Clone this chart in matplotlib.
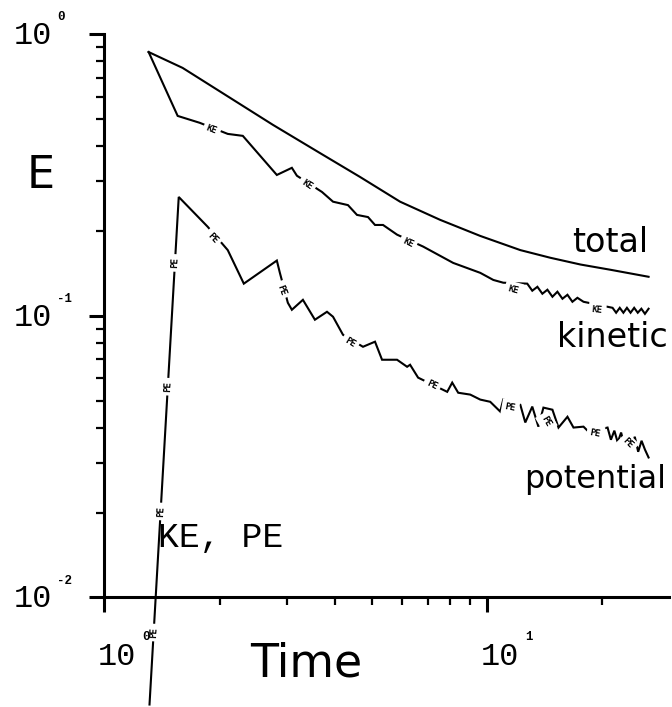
"""
Energy decay (total / kinetic / potential) on log-log axes, plotter style.
"""

import matplotlib
matplotlib.use("Agg")
import matplotlib.pyplot as plt
from matplotlib.ticker import LogLocator, NullFormatter

# ---- data -------------------------------------------------------------
time_total = [1.304, 1.600, 2.754, 3.655, 4.650, 5.919, 7.53, 9.587, 12.20, 14.62,
              17.52, 20.99, 26.39]
e_total = [0.863, 0.758, 0.476, 0.378, 0.311, 0.254, 0.219, 0.192, 0.171, 0.1606,
           0.152, 0.1456, 0.1375]

time_ke = [1.304, 1.553, 1.773, 2.099, 2.298, 2.820, 3.087, 3.182, 3.700, 3.954,
           4.326, 4.567, 4.880, 5.090, 5.342, 5.812, 6.799, 8.147, 9.587, 10.37,
           11.01, 12.72, 13.11, 13.52, 13.93, 14.36, 14.80, 15.25, 15.72, 16.20,
           16.69, 17.20, 17.84, 21.25, 21.71, 22.19, 22.68, 23.17, 23.68, 24.20,
           24.73, 25.27, 25.82, 26.39]
e_ke = [0.863, 0.512, 0.484, 0.442, 0.435, 0.316, 0.335, 0.314, 0.275, 0.254,
        0.247, 0.228, 0.224, 0.210, 0.210, 0.194, 0.176, 0.154, 0.142, 0.134,
        0.131, 0.130, 0.1227, 0.1267, 0.1197, 0.1237, 0.1168, 0.1217, 0.1149, 0.1187,
        0.1121, 0.1158, 0.1121, 0.1067, 0.1025, 0.1067, 0.1025, 0.1067, 0.1025, 0.1067,
        0.1025, 0.1059, 0.1016, 0.1059]

time_pe = [1.311, 1.563, 1.860, 2.099, 2.312, 2.820, 2.872, 3.013, 3.087, 3.299,
           3.546, 3.813, 3.954, 4.198, 4.735, 5.090, 5.310, 5.812, 6.174, 6.286,
           6.597, 7.859, 8.099, 8.396, 9.027, 9.587, 10.18, 10.81, 11.01, 12.20,
           12.57, 13.11, 13.60, 14.02, 14.80, 15.35, 16.20, 16.80, 17.84, 18.38,
           20.62, 21.04, 21.48, 21.92, 22.37, 22.84, 23.31, 23.79, 24.29, 24.79,
           25.30, 25.82, 26.39]
e_pe = [0.00417, 0.264, 0.207, 0.171, 0.130, 0.157, 0.142, 0.1112, 0.1050, 0.1139,
        0.0968, 0.1033, 0.0992, 0.0856, 0.0776, 0.0809, 0.0698, 0.0698, 0.0659, 0.0670,
        0.0603, 0.0537, 0.0579, 0.0533, 0.0525, 0.0504, 0.0495, 0.0457, 0.0504, 0.0483,
        0.0418, 0.0476, 0.0404, 0.0472, 0.0464, 0.0401, 0.0438, 0.0401, 0.0404, 0.0388,
        0.0401, 0.0363, 0.0391, 0.0355, 0.0385, 0.0346, 0.0375, 0.0338, 0.0372, 0.0329,
        0.0360, 0.0335, 0.0314]

# curve-marker labels the plotter wrote along the lines
ke_mark_t = [1.906, 3.380, 6.213, 11.70, 19.41]
ke_mark_e = [0.4566, 0.2914, 0.1815, 0.1237, 0.1050]
ke_mark_rot = [-21, -33, -25, -15, -5]

pe_mark_t = [1.344, 1.402, 1.464, 1.527, 1.918, 2.907, 4.379, 7.178, 11.49, 14.27, 19.17, 23.26]
pe_mark_e = [0.00751, 0.0202, 0.0560, 0.154, 0.189, 0.1237, 0.0802, 0.0569, 0.0472, 0.0421, 0.0382, 0.0352]
pe_mark_rot = [87, 87, 87, 87, -47, -70, -31, -26, -10, -60, -10, -45]

x_decades = [1, 10]
x_exps = ["0", "1"]
y_decades = [1, 0.1, 0.01]
y_exps = ["0", "-1", "-2"]

MONO = "Liberation Mono"
SANS = "DejaVu Sans"
LW_AX = 2.2

fig = plt.figure(figsize=(6.72, 7.07), dpi=100)
fig.patch.set_facecolor("white")
ax = fig.add_axes([0.1555, 0.15488, 0.8397, 0.79703])

ax.set_xscale("log")
ax.set_yscale("log")
ax.set_xlim(1, 29.8)
ax.set_ylim(0.01, 1)

line_kw = dict(color="black", lw=1.5, solid_joinstyle="miter", zorder=3)
ax.plot(time_total, e_total, **line_kw)
ax.plot(time_ke, e_ke, **line_kw)
ax.plot(time_pe, e_pe, clip_on=False, **line_kw)

mark_kw = dict(fontsize=6.5, fontweight="bold", family="DejaVu Sans Mono",
               ha="center", va="center", rotation_mode="anchor", zorder=5,
               bbox=dict(fc="white", ec="none", pad=2.5), clip_on=False)
for t, e, r in zip(ke_mark_t, ke_mark_e, ke_mark_rot):
    ax.text(t, e, "KE", rotation=r, **mark_kw)
for t, e, r in zip(pe_mark_t, pe_mark_e, pe_mark_rot):
    ax.text(t, e, "PE", rotation=r, **mark_kw)

# axes chrome: only left and bottom, ticks outward
for side in ("top", "right"):
    ax.spines[side].set_visible(False)
for side in ("left", "bottom"):
    ax.spines[side].set_linewidth(LW_AX)
ax.xaxis.set_major_locator(LogLocator(base=10, numticks=10))
ax.xaxis.set_minor_locator(LogLocator(base=10, subs=range(2, 10), numticks=10))
ax.yaxis.set_major_locator(LogLocator(base=10, numticks=10))
ax.yaxis.set_minor_locator(LogLocator(base=10, subs=range(2, 10), numticks=10))
for axis in (ax.xaxis, ax.yaxis):
    axis.set_major_formatter(NullFormatter())
    axis.set_minor_formatter(NullFormatter())
ax.tick_params(which="major", direction="out", length=11, width=LW_AX,
               top=False, right=False)
ax.tick_params(which="minor", direction="out", length=6, width=1.6,
               top=False, right=False)

# decade labels drawn by hand, plotter style
for v, ex in zip(y_decades, y_exps):
    ax.annotate("10", xy=(1, v), xycoords="data", xytext=(-37.8, -7.2),
                textcoords="offset points", ha="right", va="baseline",
                fontsize=23, family=MONO, annotation_clip=False)
    ax.annotate(ex, xy=(1, v), xycoords="data", xytext=(-34.2, 10),
                textcoords="offset points", ha="left", va="baseline",
                fontsize=9, fontweight="bold", family=MONO, annotation_clip=False)
for v, ex in zip(x_decades, x_exps):
    ax.annotate("10", xy=(v, 0.01), xycoords="data", xytext=(-4.7, -48.6),
                textcoords="offset points", ha="left", va="baseline",
                fontsize=23, family=MONO, annotation_clip=False)
    ax.annotate(ex, xy=(v, 0.01), xycoords="data", xytext=(27.3, -30.6),
                textcoords="offset points", ha="left", va="baseline",
                fontsize=9, fontweight="bold", family=MONO, annotation_clip=False,
                zorder=7)

ax.text(1.376, 0.0163, "KE, PE", fontsize=25, family=MONO,
        ha="left", va="center", zorder=4)

# curve names and axis titles
ax.text(26.3, 0.1686, "total", fontsize=24, family=SANS, ha="right", va="baseline")
ax.text(29.7, 0.0776, "kinetic", fontsize=24, family=SANS, ha="right", va="baseline")
ax.text(29.3, 0.0245, "potential", fontsize=23, family=SANS, ha="right", va="baseline")
fig.text(0.0402, 0.734, "E", fontsize=32, family=SANS, ha="left", va="baseline")
fig.text(0.4554, 0.0438, "Time", fontsize=33, family=SANS, ha="center", va="baseline")

fig.savefig("out.png", dpi=100, facecolor="white")
